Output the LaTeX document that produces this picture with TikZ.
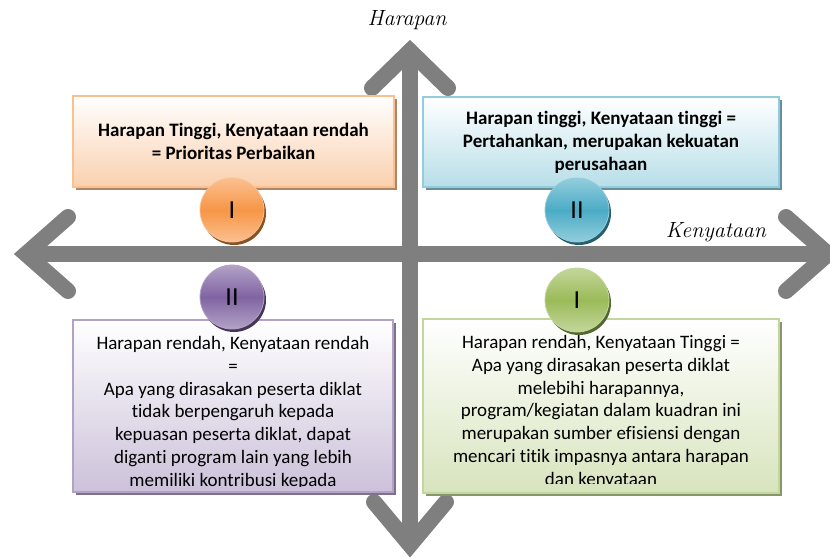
\documentclass[tikz,border=0pt]{standalone}
\usepackage{fontspec}
\newfontfamily\calibri{Carlito}[Ligatures=NoCommon,RawFeature={-calt;-clig}]
\usetikzlibrary{positioning,shadows}
\definecolor{axisgray}{HTML}{7F7F7F}
\definecolor{orLine}{HTML}{FAC090}
\definecolor{orFill}{HTML}{FAD0AE}
\definecolor{orBall}{HTML}{F79646}
\definecolor{blLine}{HTML}{93CDDD}
\definecolor{blFill}{HTML}{B7DEE8}
\definecolor{blBall}{HTML}{4BACC6}
\definecolor{puLine}{HTML}{B3A2C7}
\definecolor{puFill}{HTML}{CCC1DA}
\definecolor{puBall}{HTML}{8064A2}
\definecolor{grLine}{HTML}{C3D69B}
\definecolor{grFill}{HTML}{D7E4BD}
\definecolor{grBall}{HTML}{9BBB59}
\begin{document}
\begin{tikzpicture}[x=1pt,y=-1pt,
 axis/.style={draw=axisgray,line width=16pt},
 head/.style={axis,line cap=round,line join=miter},
 quad/.style={line width=1.6pt,inner sep=0pt,align=center,top color=white,bottom color=#1Fill,draw=#1Line,drop shadow={shadow xshift=3pt,shadow yshift=-3pt,opacity=1,fill=#1Line!70!black}},
 ball/.style={circle,minimum size=64pt,inner sep=0pt,draw=#1Line,line width=0.8pt,top color=#1Line,bottom color=#1Line,middle color=#1Ball,font=\calibri\fontsize{26}{26}\selectfont,drop shadow={shadow xshift=2pt,shadow yshift=-3pt,opacity=1,fill=#1Ball!55!black}},
 bold/.style={font=\calibri\bfseries\fontsize{19}{23}\selectfont},
 body/.style={font=\calibri\fontsize{19}{22.8}\selectfont,align=center,inner sep=0pt},
 axlabel/.style={font=\itshape\fontsize{22}{22}\selectfont}]
\useasboundingbox (0,0) rectangle (830,557);
\clip (0,0) rectangle (830,557);
% axes
\coordinate (hl) at (26,254); \coordinate (hr) at (828,254);
\coordinate (vt) at (410,51); \coordinate (vb) at (410,545);
\draw[axis] (hl) -- (hr);
\draw[axis] (vt) -- (vb);
\draw[head] ([shift={(42,-37)}]hl) -- (hl) -- ([shift={(42,37)}]hl);
\draw[head] ([shift={(-42,-37)}]hr) -- (hr) -- ([shift={(-42,37)}]hr);
\draw[head] ([shift={(-38,37)}]vt) -- (vt) -- ([shift={(38,37)}]vt);
\draw[head] ([shift={(-36,-43)}]vb) -- (vb) -- ([shift={(36,-43)}]vb);
\node[axlabel] (harapan) at (407,20) {Harapan};
\node[axlabel] (kenyataan) at (716,232) {Kenyataan};
% quadrants
\node[quad=or,bold,minimum width=321pt,minimum height=91pt] (q1) at (233.5,141.5) {Harapan Tinggi, Kenyataan rendah\\= Prioritas Perbaikan};
\node[quad=bl,bold,minimum width=356pt,minimum height=90pt] (q2) at (601,142) {Harapan tinggi, Kenyataan tinggi =\\Pertahankan, merupakan kekuatan\\perusahaan};
\node[quad=pu,minimum width=320pt,minimum height=172pt] (q3) at (233,406) {};
\node[quad=gr,minimum width=356pt,minimum height=174pt] (q4) at (601,406) {};
\begin{scope}
\clip ([yshift=6pt]q3.south west) rectangle (q3.north east);
\node[body,below=17pt of q3.north] (t3) {Harapan rendah, Kenyataan rendah\\=\\Apa yang dirasakan peserta diklat\\tidak berpengaruh kepada\\kepuasan peserta diklat, dapat\\diganti program lain yang lebih\\memiliki kontribusi kepada};
\end{scope}
\begin{scope}
\clip ([yshift=10pt]q4.south west) rectangle (q4.north east);
\node[body,below=17pt of q4.north] (t4) {Harapan rendah, Kenyataan Tinggi =\\Apa yang dirasakan peserta diklat\\melebihi harapannya,\\program/kegiatan dalam kuadran ini\\merupakan sumber efisiensi dengan\\mencari titik impasnya antara harapan\\dan kenyataan};
\end{scope}
% numbers
\node[ball=or] (b1) at (232,210) {I};
\node[ball=bl] (b2) at (577,210) {II};
\node[ball=pu] (b3) at (232,297) {II};
\node[ball=gr] (b4) at (577,300) {I};
\end{tikzpicture}
\end{document}
